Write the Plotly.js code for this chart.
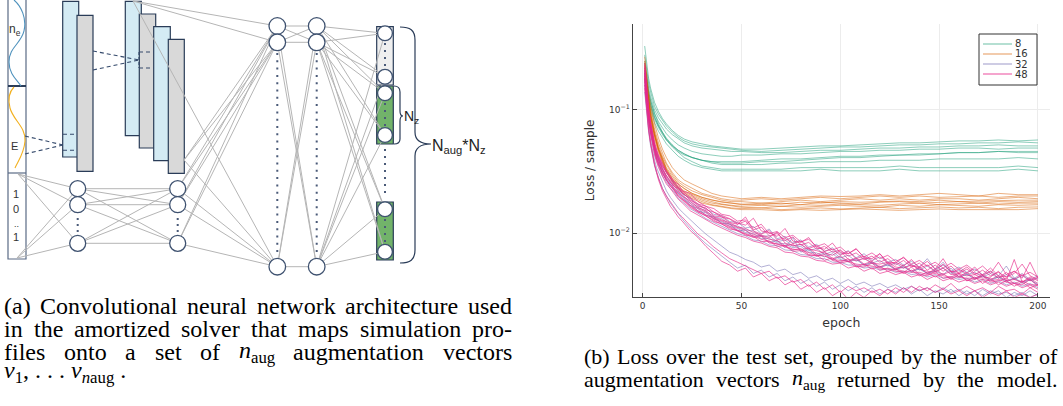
<!DOCTYPE html>
<html><head><meta charset="utf-8">
<script src="https://cdn.plot.ly/plotly-3.0.1.min.js"></script>
<style>html,body{margin:0;padding:0;background:#fff;} #chart{width:1063px;height:406px;}</style>
</head><body><div id="chart"></div>
<script>
// ---------------- DATA ----------------
const epochsSmooth = [1,2,3,4,5,6,8,10,12,15,18,21,25,30,35,40,45,50,60,70,80,90,100,110,120,130,140,150,160,170,180,190,200];
const epochsNoisy = [1,2,3,4,5,6,7,8,10,12,14,16,18,20,24,28,32,36,40,44,48,52,56,60,64,68,72,76,80,84,88,92,96,100,104,108,112,116,120,124,128,132,136,140,144,148,152,156,160,164,168,172,176,180,184,188,192,196,200];

const loss8 = [
 [0.33,0.24,0.18,0.15,0.13,0.115,0.097,0.085,0.077,0.068,0.062,0.058,0.055,0.053,0.051,0.050,0.049,0.048, 0.048,0.049,0.050,0.051,0.051,0.052,0.053,0.054,0.054,0.055,0.056,0.056,0.057,0.056,0.057],
 [0.28,0.21,0.165,0.14,0.12,0.107,0.092,0.082,0.074,0.066,0.06,0.056,0.053,0.051,0.050,0.049,0.048,0.047, 0.046,0.047,0.048,0.049,0.050,0.050,0.051,0.052,0.052,0.053,0.053,0.054,0.054,0.055,0.054],
 [0.25,0.19,0.15,0.128,0.112,0.1,0.086,0.077,0.07,0.063,0.058,0.054,0.051,0.049,0.048,0.047,0.046,0.046, 0.045,0.045,0.046,0.047,0.047,0.048,0.049,0.049,0.050,0.050,0.051,0.051,0.052,0.051,0.051],
 [0.22,0.17,0.138,0.118,0.104,0.094,0.08,0.071,0.064,0.057,0.052,0.049,0.046,0.044,0.043,0.042,0.042,0.043, 0.043,0.044,0.044,0.045,0.046,0.046,0.047,0.047,0.048,0.048,0.049,0.049,0.048,0.049,0.049],
 [0.2,0.155,0.127,0.11,0.097,0.087,0.074,0.065,0.058,0.051,0.046,0.043,0.041,0.039,0.038,0.037,0.037,0.037, 0.038,0.038,0.039,0.040,0.041,0.041,0.042,0.043,0.043,0.044,0.045,0.045,0.046,0.046,0.046],
 [0.24,0.18,0.14,0.12,0.105,0.093,0.077,0.066,0.059,0.052,0.047,0.044,0.041,0.039,0.038,0.038,0.038,0.038, 0.039,0.040,0.040,0.041,0.042,0.042,0.043,0.043,0.044,0.044,0.045,0.045,0.046,0.045,0.045],
 [0.19,0.15,0.122,0.105,0.093,0.084,0.072,0.063,0.057,0.051,0.047,0.044,0.041,0.039,0.037,0.036,0.036,0.036, 0.036,0.037,0.037,0.038,0.038,0.038,0.039,0.039,0.039,0.040,0.040,0.040,0.040,0.041,0.040],
 [0.21,0.16,0.13,0.112,0.098,0.088,0.074,0.064,0.057,0.05,0.045,0.041,0.038,0.035,0.034,0.033,0.033,0.033, 0.033,0.033,0.034,0.034,0.034,0.034,0.034,0.035,0.034,0.034,0.034,0.034,0.034,0.035,0.034],
 [0.18,0.14,0.115,0.1,0.088,0.079,0.067,0.059,0.053,0.047,0.042,0.039,0.036,0.034,0.033,0.032,0.032,0.032, 0.032,0.032,0.032,0.033,0.032,0.032,0.032,0.033,0.032,0.032,0.032,0.032,0.032,0.033,0.032]
];

const loss16 = [
 [0.27,0.19,0.14,0.11,0.09,0.077,0.059,0.048,0.041,0.034,0.03,0.027,0.025,0.023,0.021,0.020,0.0195,0.019, 0.0195,0.019,0.0195,0.020,0.0198,0.020,0.0205,0.020,0.0205,0.021,0.0205,0.020,0.021,0.0205,0.0205],
 [0.24,0.17,0.125,0.099,0.082,0.07,0.054,0.044,0.037,0.031,0.027,0.025,0.023,0.021,0.02,0.019,0.0185,0.0185, 0.019,0.0185,0.019,0.0195,0.019,0.0195,0.02,0.0195,0.02,0.0195,0.0198,0.02,0.0195,0.02,0.02],
 [0.22,0.16,0.118,0.094,0.078,0.066,0.051,0.042,0.036,0.03,0.026,0.024,0.022,0.0205,0.0195,0.0185,0.018,0.018, 0.0175,0.018,0.0185,0.018,0.0185,0.019,0.0185,0.019,0.0185,0.019,0.019,0.0185,0.019,0.0195,0.019],
 [0.2,0.15,0.11,0.088,0.073,0.062,0.048,0.039,0.033,0.028,0.025,0.023,0.021,0.0195,0.0185,0.018,0.0175,0.017, 0.0175,0.0172,0.0178,0.0175,0.018,0.0178,0.018,0.0182,0.018,0.0185,0.018,0.0182,0.0185,0.0185,0.0185],
 [0.25,0.17,0.12,0.094,0.077,0.065,0.049,0.04,0.034,0.029,0.025,0.023,0.021,0.0195,0.0185,0.0178,0.0175,0.0172, 0.017,0.0175,0.017,0.0178,0.0175,0.0172,0.0178,0.018,0.0175,0.0178,0.018,0.0175,0.018,0.0178,0.018],
 [0.21,0.15,0.112,0.089,0.074,0.063,0.048,0.039,0.033,0.0275,0.024,0.022,0.0205,0.019,0.018,0.0172,0.0168,0.0165, 0.0168,0.0165,0.017,0.0168,0.0172,0.017,0.0168,0.0172,0.0175,0.017,0.0172,0.0175,0.0172,0.0175,0.0175],
 [0.19,0.14,0.105,0.085,0.071,0.061,0.047,0.038,0.032,0.027,0.0235,0.0215,0.02,0.0185,0.0175,0.017,0.0165,0.0162, 0.016,0.0165,0.0162,0.0165,0.0168,0.0165,0.0162,0.0168,0.0165,0.017,0.0168,0.0165,0.017,0.0168,0.017],
 [0.23,0.16,0.115,0.09,0.074,0.062,0.047,0.038,0.032,0.0265,0.023,0.021,0.0195,0.018,0.017,0.0165,0.016,0.0158, 0.016,0.0155,0.0158,0.016,0.0157,0.016,0.0162,0.0158,0.016,0.0163,0.016,0.0162,0.0158,0.0162,0.0163],
 [0.18,0.135,0.102,0.082,0.068,0.058,0.045,0.037,0.031,0.026,0.0225,0.0205,0.019,0.0175,0.0168,0.0162,0.0158,0.0155, 0.0155,0.0152,0.0155,0.0153,0.0155,0.0157,0.0155,0.0153,0.0155,0.0157,0.0155,0.0155,0.0157,0.0155,0.0158]
];

const loss32 = [
 [0.2,0.13,0.094,0.073,0.059,0.05,0.044,0.04,0.033,0.029,
  0.026,0.024,0.022,0.0205,0.018,0.0162,0.015,0.0136,0.0131,0.0118,
  0.0114,0.0106,0.0104,0.0094,0.0095,0.0085,0.0088,0.0078,0.0081,0.0072,
  0.0075,0.0067,0.0071,0.0063,0.0066,0.0059,0.0063,0.0057,0.006,0.0054,
  0.0057,0.0052,0.0056,0.005,0.0054,0.0049,0.0052,0.0047,0.005,0.0046,
  0.0048,0.0044,0.0047,0.0043,0.0046,0.0042,0.0045,0.0041,0.0043],
 [0.21,0.135,0.098,0.076,0.062,0.052,0.046,0.042,0.035,0.031,
  0.028,0.025,0.0235,0.021,0.0192,0.0168,0.0158,0.0142,0.0138,0.0124,
  0.0122,0.011,0.0113,0.0099,0.0108,0.009,0.0094,0.0083,0.0088,0.0077,
  0.0081,0.0071,0.0076,0.0067,0.0072,0.0063,0.0068,0.006,0.0064,0.0058,
  0.0061,0.0055,0.0059,0.0053,0.0062,0.0051,0.0055,0.0049,0.0053,0.0048,
  0.0051,0.0046,0.0049,0.0045,0.0054,0.0043,0.0047,0.0042,0.0045],
 [0.14,0.09,0.066,0.051,0.042,0.035,0.031,0.028,0.023,0.02,
  0.0175,0.0158,0.0142,0.013,0.011,0.0094,0.0082,0.0073,0.0064,0.0058,
  0.0052,0.0055,0.0047,0.005,0.0044,0.0047,0.0041,0.0044,0.0039,0.0042,
  0.0037,0.004,0.0035,0.0038,0.0034,0.0037,0.0033,0.0036,0.0032,0.0035,
  0.0033,0.0036,0.0032,0.0035,0.0031,0.0034,0.0032,0.0035,0.0031,0.0034,
  0.0031,0.0035,0.0032,0.0034,0.003,0.0033,0.0031,0.0034,0.0031],
 [0.17,0.115,0.083,0.064,0.052,0.044,0.039,0.035,0.029,0.026,
  0.023,0.0215,0.0192,0.018,0.0158,0.0145,0.0131,0.0122,0.0113,0.0106,
  0.0099,0.0095,0.0088,0.0086,0.008,0.0079,0.0073,0.0072,0.0067,0.0066,
  0.0062,0.0062,0.0058,0.0058,0.0055,0.0055,0.0052,0.0053,0.005,0.0051,
  0.0048,0.0049,0.0046,0.0047,0.0044,0.0046,0.0043,0.0044,0.0042,0.0043,
  0.004,0.0042,0.0039,0.0041,0.0038,0.004,0.0037,0.0039,0.0036],
 [0.16,0.1,0.073,0.057,0.046,0.039,0.034,0.031,0.026,0.022,
  0.0195,0.0176,0.016,0.0148,0.0128,0.0112,0.0098,0.0088,0.0079,0.007,
  0.0066,0.0061,0.0058,0.0053,0.0055,0.0049,0.0051,0.0046,0.0048,0.0043,
  0.0045,0.0041,0.0043,0.0039,0.0042,0.0038,0.004,0.0037,0.0039,0.0036,
  0.0038,0.0035,0.0037,0.0034,0.0036,0.0033,0.0036,0.0033,0.0035,0.0032,
  0.0034,0.0031,0.0034,0.0032,0.0033,0.0031,0.0033,0.003,0.0032],
 [0.19,0.125,0.09,0.07,0.057,0.048,0.042,0.038,0.032,0.028,
  0.025,0.023,0.021,0.0198,0.0168,0.0158,0.0139,0.0135,0.012,0.0119,
  0.0104,0.0106,0.0093,0.0096,0.0084,0.0087,0.0076,0.0092,0.007,0.0074,
  0.0065,0.0069,0.0061,0.0064,0.0058,0.0061,0.0055,0.0058,0.0052,0.0056,
  0.005,0.0054,0.0048,0.0052,0.0047,0.005,0.0058,0.0048,0.0043,0.0047,
  0.0042,0.0045,0.0041,0.0044,0.004,0.0043,0.0039,0.0042,0.0038],
 [0.18,0.12,0.088,0.069,0.056,0.047,0.041,0.037,0.031,0.027,
  0.025,0.0225,0.021,0.0192,0.0174,0.0151,0.0146,0.013,0.0124,0.0114,
  0.0109,0.0101,0.0099,0.009,0.0091,0.0083,0.0082,0.0076,0.0078,0.007,
  0.0069,0.0064,0.0068,0.0061,0.0059,0.0062,0.0055,0.0057,0.0053,0.0055,
  0.0051,0.0053,0.0049,0.0051,0.0047,0.0049,0.0046,0.0052,0.0044,0.0046,
  0.0043,0.0045,0.0042,0.0044,0.0041,0.0043,0.004,0.0042,0.0038]
];

const loss48 = [
 [0.21,0.13,0.095,0.074,0.06,0.05,0.044,0.04,0.034,0.029,
  0.027,0.024,0.023,0.021,0.019,0.0165,0.016,0.0138,0.0135,0.0122,
  0.0118,0.0125,0.0104,0.0098,0.0105,0.0088,0.0091,0.0082,0.0086,0.0075,
  0.0079,0.0071,0.0074,0.0066,0.0071,0.0062,0.0065,0.0059,0.0068,0.0056,
  0.0058,0.0054,0.0061,0.0052,0.0055,0.0049,0.0056,0.0048,0.0051,0.0047,
  0.0053,0.0045,0.0049,0.0043,0.0048,0.0042,0.0046,0.0041,0.0044],
 [0.24,0.15,0.105,0.08,0.065,0.055,0.048,0.043,0.037,0.032,
  0.029,0.026,0.025,0.022,0.021,0.018,0.0165,0.0158,0.0142,0.0138,
  0.0125,0.0128,0.011,0.0118,0.0099,0.0103,0.0092,0.0096,0.0085,0.0089,
  0.0078,0.0082,0.0073,0.0077,0.0068,0.0074,0.0064,0.0069,0.0062,0.0066,
  0.0059,0.0063,0.0056,0.006,0.0054,0.0058,0.0052,0.0057,0.0051,0.0055,
  0.0049,0.0054,0.0047,0.0058,0.0046,0.0049,0.0045,0.0048,0.0044],
 [0.18,0.115,0.085,0.066,0.054,0.046,0.04,0.036,0.03,0.027,
  0.024,0.022,0.0198,0.0186,0.0162,0.0148,0.0138,0.0124,0.0119,0.0108,
  0.0105,0.0096,0.0094,0.0085,0.0086,0.0078,0.0079,0.0071,0.0072,0.0066,
  0.0066,0.006,0.0063,0.0057,0.0059,0.0053,0.0056,0.0051,0.0054,0.0049,
  0.0051,0.0047,0.005,0.0045,0.0048,0.0044,0.0047,0.0042,0.0046,0.0041,
  0.0044,0.0039,0.0043,0.0038,0.0041,0.0037,0.004,0.0036,0.0038],
 [0.2,0.128,0.092,0.071,0.058,0.049,0.043,0.039,0.033,0.028,
  0.026,0.023,0.0215,0.02,0.0175,0.0158,0.0148,0.0132,0.0126,0.0117,
  0.011,0.0105,0.0097,0.0095,0.0089,0.0087,0.0079,0.0081,0.0073,0.0076,
  0.0067,0.0071,0.0062,0.0065,0.0059,0.0063,0.0056,0.0059,0.0053,0.0057,
  0.0051,0.0055,0.0049,0.0053,0.0047,0.0051,0.0046,0.0049,0.0044,0.0048,
  0.0043,0.0046,0.0042,0.0045,0.0041,0.0061,0.004,0.0043,0.0039],
 [0.16,0.1,0.07,0.054,0.043,0.036,0.031,0.027,0.022,0.019,
  0.0165,0.015,0.0135,0.0125,0.0105,0.0092,0.0078,0.0068,0.0059,0.0055,
  0.0049,0.0052,0.0044,0.0047,0.0041,0.0044,0.0038,0.0041,0.0035,0.0038,
  0.0033,0.0036,0.0031,0.0034,0.0029,0.0033,0.003,0.0034,0.0031,0.0035,
  0.0032,0.0036,0.0033,0.0037,0.0034,0.0038,0.0035,0.0039,0.0034,0.0037,
  0.0034,0.0036,0.0033,0.0037,0.0034,0.0035,0.0032,0.0036,0.0033],
 [0.17,0.11,0.08,0.063,0.051,0.043,0.038,0.034,0.029,0.025,
  0.023,0.021,0.0188,0.0176,0.0152,0.014,0.0128,0.0118,0.011,0.0102,
  0.0096,0.0092,0.0086,0.0083,0.0078,0.0076,0.007,0.0069,0.0065,0.0064,
  0.006,0.0059,0.0056,0.0057,0.0052,0.0054,0.0049,0.0052,0.0047,0.0049,
  0.0046,0.0048,0.0044,0.0046,0.0042,0.0045,0.0041,0.0043,0.004,0.0042,
  0.0039,0.0041,0.0038,0.004,0.0037,0.0039,0.0036,0.0038,0.0035],
 [0.15,0.095,0.068,0.053,0.043,0.036,0.032,0.028,0.023,0.02,
  0.018,0.016,0.0145,0.0135,0.0115,0.0098,0.0088,0.0077,0.0069,0.0062,
  0.0058,0.0054,0.0051,0.0047,0.0049,0.0043,0.0045,0.004,0.0042,0.0037,
  0.004,0.0035,0.0038,0.0033,0.0037,0.0034,0.0036,0.0033,0.0035,0.0032,
  0.0036,0.0033,0.0037,0.0034,0.0036,0.0033,0.0035,0.0032,0.0034,0.0031,
  0.0034,0.003,0.0033,0.0031,0.0034,0.003,0.0032,0.003,0.0032],
 [0.22,0.14,0.1,0.077,0.062,0.052,0.046,0.041,0.035,0.031,
  0.028,0.025,0.023,0.0215,0.0185,0.0172,0.0155,0.0148,0.0135,0.013,
  0.0118,0.0135,0.0106,0.0112,0.0095,0.0099,0.0087,0.0093,0.008,0.0084,
  0.0074,0.0078,0.007,0.0073,0.0065,0.0069,0.0061,0.0065,0.0058,0.0062,
  0.0055,0.006,0.0053,0.0057,0.005,0.0055,0.0049,0.0054,0.0047,0.0051,
  0.0046,0.005,0.0045,0.0048,0.0044,0.0047,0.0056,0.0045,0.0042],
 [0.2,0.13,0.093,0.072,0.059,0.05,0.044,0.039,0.033,0.029,
  0.026,0.024,0.022,0.02,0.0182,0.0161,0.0152,0.0135,0.0128,0.0121,
  0.0112,0.0109,0.0101,0.0097,0.0092,0.0102,0.0083,0.0079,0.0081,0.0074,
  0.0072,0.0069,0.0066,0.0072,0.0061,0.006,0.0062,0.0057,0.0056,0.0058,
  0.0053,0.0052,0.0055,0.0051,0.0049,0.0048,0.0052,0.0046,0.0047,0.0045,
  0.0046,0.0043,0.0044,0.0049,0.0041,0.0042,0.004,0.0044,0.0041],
 [0.19,0.12,0.088,0.068,0.056,0.047,0.041,0.037,0.031,0.027,
  0.0245,0.0225,0.0205,0.019,0.0168,0.0152,0.0141,0.0129,0.0121,0.0113,
  0.0106,0.0099,0.0095,0.0089,0.0086,0.0081,0.0079,0.0074,0.0073,0.0069,
  0.0066,0.0065,0.0061,0.006,0.0059,0.0056,0.0055,0.0054,0.0052,0.0051,
  0.0051,0.0049,0.0048,0.0048,0.0046,0.0047,0.0045,0.0044,0.0044,0.0043,
  0.0043,0.0042,0.0041,0.0042,0.004,0.0039,0.0041,0.0038,0.0038],
 [0.23,0.14,0.1,0.078,0.063,0.053,0.047,0.042,0.036,0.031,
  0.028,0.026,0.0235,0.022,0.0195,0.0172,0.0165,0.0148,0.0139,0.0131,
  0.0121,0.0116,0.0132,0.0104,0.0101,0.0094,0.0109,0.0086,0.0084,0.0092,
  0.0076,0.0074,0.0083,0.0069,0.0068,0.0075,0.0063,0.0062,0.0068,0.0058,
  0.0057,0.0064,0.0054,0.0053,0.0059,0.0051,0.0062,0.0049,0.0048,0.0053,
  0.0047,0.0046,0.0052,0.0045,0.0044,0.0049,0.0043,0.0058,0.0043],
 [0.18,0.118,0.086,0.067,0.055,0.046,0.04,0.036,0.031,0.027,
  0.024,0.0222,0.02,0.0187,0.0166,0.0149,0.0137,0.0127,0.0118,0.011,
  0.0104,0.0098,0.0092,0.0094,0.0083,0.0082,0.0077,0.0073,0.0075,0.0067,
  0.0065,0.0067,0.006,0.0058,0.0062,0.0054,0.0053,0.0057,0.005,0.0052,
  0.0049,0.0048,0.0053,0.0046,0.0045,0.0049,0.0043,0.0044,0.0047,0.0041,
  0.0042,0.0045,0.004,0.0041,0.0043,0.0039,0.0038,0.0042,0.0037]
];

const groupNames = ['8','16','32','48'];
const groupColors = ['rgba(27,158,119,0.5)','rgba(217,95,2,0.5)','rgba(117,112,179,0.55)','rgba(231,41,138,0.65)'];
const xTickVals = [0,50,100,150,200];
const yTickVals = [0.01,0.1];
const yTickText = ['10<sup>\u22122</sup>','10<sup>\u22121</sup>'];

// ---------------- TRACES ----------------
const traces = [];
[[loss8, epochsSmooth],[loss16, epochsSmooth],[loss32, epochsNoisy],[loss48, epochsNoisy]].forEach(([runs, ep], gi) => {
  runs.forEach(run => traces.push({
    type:'scatter', mode:'lines', x: ep, y: run, name: groupNames[gi],
    line:{color: groupColors[gi], width:1}, hoverinfo:'skip', showlegend:false
  }));
});

// ---------------- DIAGRAM HELPERS (pixel -> paper) ----------------
const W = 1063, H = 406;
const X = v => v / W, Y = v => 1 - v / H;
const shapes = [], annotations = [];
function seg(x0,y0,x1,y1,color,width,dash){ shapes.push({type:'line',xref:'paper',yref:'paper',x0:X(x0),y0:Y(y0),x1:X(x1),y1:Y(y1),line:{color:color,width:width,dash:dash||'solid'}}); }
function box(x0,y0,x1,y1,fill,color,width){ shapes.push({type:'rect',xref:'paper',yref:'paper',x0:X(x0),y0:Y(y1),x1:X(x1),y1:Y(y0),fillcolor:fill,line:{color:color,width:width}}); }
function ring(cx,cy,r,fill,color,width){ shapes.push({type:'circle',xref:'paper',yref:'paper',x0:X(cx-r),x1:X(cx+r),y0:Y(cy+r),y1:Y(cy-r),fillcolor:fill,line:{color:color,width:width}}); }
function curve(d,color,width){
  const toks = d.trim().split(/[\s,]+/); const out=[]; let isX=true;
  for(const t of toks){ if(/^[A-Za-z]$/.test(t)){out.push(t); isX=true;} else { const v=parseFloat(t); out.push(isX? X(v).toFixed(5): Y(v).toFixed(5)); isX=!isX; } }
  shapes.push({type:'path',xref:'paper',yref:'paper',path:out.join(' '),line:{color:color,width:width},fillcolor:'rgba(0,0,0,0)'});
}
function txt(x,y,t,size,family,color,xanchor){ annotations.push({xref:'paper',yref:'paper',x:X(x),y:Y(y),text:t,showarrow:false,xanchor:xanchor||'center',yanchor:'middle',borderpad:0,borderwidth:0,font:{size:size,family:family,color:color||'#333'}}); }

const GREY = '#b5b5b5', NODE = '#3f5270', RECT = '#2a3c58', DASH = '#34496b', DOT = '#4a5a78';
const BLUE = '#d4ebf4', GRAY = '#d9d9d9', GREEN = '#72b36a';
const SANS = 'Liberation Sans';

// input column
box(8,-2,26,259,'rgba(0,0,0,0)','#5a6b85',1.2);
seg(8,86,26,86,RECT,2);
seg(8,173,26,173,'#5a6b85',1.2);
curve('M 14 0 C 21 6 27 18 24 31 C 21 44 9 47 9 62 C 9 74 17 80 21 86','#4f92bd',1.1);
curve('M 14 87 C 9 92 8 100 10 108 C 13 120 26 127 25 141 C 24 154 18 161 15 168','#f2b01e',1.1);
txt(15,30,'n<sub>e</sub>',12,SANS,'#333');
txt(14,146,'E',11,SANS,'#333');
txt(16,194,'1',11,SANS,'#333');
txt(16,209,'0',11,SANS,'#333');
txt(16,224,'..',9,SANS,'#333');
txt(16,237,'1',11,SANS,'#333');

// conv blocks
box(62.7,1.3,78.7,157,BLUE,RECT,1.2);
box(77,15.3,93,171.3,GRAY,RECT,1.2);
box(125.3,1.3,141.3,135.7,BLUE,RECT,1.2);
box(139.3,14,155.7,148,GRAY,RECT,1.2);
box(153.7,26.7,170.3,160.7,BLUE,RECT,1.2);
box(168.3,39.3,184.3,173.3,GRAY,RECT,1.2);

// output column
box(376.7,26.7,393.3,85,'#efefef',RECT,1.2);
box(376.7,86,393.3,144,GREEN,RECT,1.2);
box(376.7,202,393.3,260,GREEN,RECT,1.2);

// dashed receptive fields
seg(25,136,63,145,DASH,1.1,'4px,3px');
seg(25,154,63,145,DASH,1.1,'4px,3px');
seg(63,134.3,77,134.3,DASH,1.1,'4px,3px');
seg(63,150.3,77,150.3,DASH,1.1,'4px,3px');
seg(93,51,139,60,DASH,1.1,'4px,3px');
seg(93,70,139,60,DASH,1.1,'4px,3px');
seg(139,52,154,52,DASH,1.1,'4px,3px');
seg(139,68,154,68,DASH,1.1,'4px,3px');
seg(139,52,139,68,DASH,1.1,'3px,2px');

// node positions
const c1 = [[77.7,188.7],[77.7,204.7],[77.7,243.3]];
const c2 = [[177.7,188.7],[177.7,204.7],[177.7,243.3]];
const l3 = [[277.3,26],[277.3,42.3],[277.3,266.7]];
const l4 = [[316.7,26],[316.7,42.3],[316.7,266.7]];
const outY = [33.3,76.7,93.3,135,209.3,251.7];

// connections
[[18,174],[17,258]].forEach(s => c1.forEach(t => seg(s[0],s[1],t[0],t[1],GREY,1)));
c1.forEach(s => c2.forEach(t => seg(s[0],s[1],t[0],t[1],GREY,1)));
[[133,1],[184,160]].concat(c2).forEach(s => l3.forEach(t => seg(s[0],s[1],t[0],t[1],GREY,1)));
l3.forEach(s => l4.forEach(t => seg(s[0],s[1],t[0],t[1],GREY,1)));
l4.forEach(s => outY.forEach(y => seg(s[0],s[1],385,y,GREY,1)));

// nodes
c1.concat(c2).forEach(p => ring(p[0],p[1],8,'#fff',NODE,1.3));
l3.concat(l4).forEach(p => ring(p[0],p[1],8.3,'#fff',NODE,1.3));
outY.forEach(y => ring(385,y,7.4,'#fff',NODE,1.3));

// dotted continuations
seg(77.7,218,77.7,232,DOT,2,'2px,4px');
seg(177.7,218,177.7,232,DOT,2,'2px,4px');
seg(277.3,53,277.3,257,DOT,2,'2px,5.3px');
seg(316.7,53,316.7,257,DOT,2,'2px,5.3px');
seg(385,43,385,68,DOT,2,'2px,5px');
seg(385,103,385,127,DOT,2,'2px,5px');
seg(385,149,385,198,DOT,2,'2px,5px');
seg(385,219,385,244,DOT,2,'2px,5px');

// braces
curve('M 394 86 C 398 86 400 88 400 92 L 400 111 C 400 114 401 116 403 116 C 401 116 400 118 400 121 L 400 139 C 400 142 398 144 394 144',RECT,1.2);
txt(403.5,117,'N<sub>z</sub>',14,SANS,'#222','left');
curve('M 400 27 C 410 27 415 30 415 40 L 415 132 C 415 140 420 144 431 144 C 420 144 415 148 415 156 L 415 250 C 415 260 410 263 400 263',RECT,1.2);
txt(431.5,146,'N<sub>aug</sub>*N<sub>z</sub>',16,SANS,'#222','left');

// manual legend
box(979,34,1037,85,'#fff','#333',1);
groupNames.forEach((n,i) => {
  const y = 44 + i*10;
  seg(983,y,1012,y,groupColors[i],1.3);
  txt(1015,y,n,10,'DejaVu Sans','#333','left');
});

// ---------------- CAPTIONS (justified by measuring words) ----------------
const CAP_FONT = 'Liberation Serif';
const CAP_FAMILY = '"Liberation Serif", "Times New Roman", "DejaVu Serif", serif';
const capA = [
  ['(a)','Convolutional','neural','network','architecture','used'],
  ['in','the','amortized','solver','that','maps','simulation','pro-'],
  ['files','onto','a','set','of','<i>n</i><sub>aug</sub>','augmentation','vectors']
];
const capA4 = '<i>v</i><sub>1</sub>, . . . <i>v</i><sub><i>n</i>aug</sub> .';
const capB = [
  ['(b)','Loss','over','the','test','set,','grouped','by','the','number','of'],
  ['augmentation','vectors','<i>n</i><sub>aug</sub>','returned','by','the','model.']
];
const cv = document.createElement('canvas').getContext('2d');
function measure(html,size){
  const re = /<(\/?)(i|sub)>|([^<]+)/g; let m, it=false, sub=0, w=0;
  while((m = re.exec(html))){
    if(m[3]!==undefined){ const s = sub? size*0.7 : size; cv.font = (it?'italic ':'') + s + 'px "' + CAP_FONT + '"'; w += cv.measureText(m[3]).width; }
    else if(m[2]==='i') it = !m[1];
    else if(m[2]==='sub') sub += m[1]? -1 : 1;
  }
  return w;
}
function justify(words,x0,x1,y,size){
  const ws = words.map(w => measure(w,size));
  const tot = ws.reduce((a,b)=>a+b,0);
  const gap = (x1-x0-tot)/(words.length-1);
  let x = x0;
  words.forEach((w,i) => { txt(x,y,w,size,CAP_FAMILY,'#000','left'); x += ws[i] + gap; });
}
const capAY = [306,329,352], capBY = [356,379];
capA.forEach((l,i) => justify(l,4,512,capAY[i],24));
txt(4,372,capA4,24,CAP_FAMILY,'#000','left');
capB.forEach((l,i) => justify(l,584,1057,capBY[i],22));

// ---------------- LAYOUT ----------------
const layout = {
  width:W, height:H, margin:{l:0,r:0,t:0,b:0},
  paper_bgcolor:'#fff', plot_bgcolor:'rgba(0,0,0,0)', showlegend:false,
  font:{family:'DejaVu Sans', color:'#333'},
  xaxis:{domain:[632.7/W,1050/W], range:[-5.06,206.1], tickvals:xTickVals, ticks:'inside', ticklen:4, tickcolor:'#444',
    showline:true, linecolor:'#444', linewidth:1.2, showgrid:true, gridcolor:'#ececec', gridwidth:1, zeroline:false,
    tickfont:{size:9, color:'#333'}, title:{text:'epoch', font:{size:12.5, color:'#333'}, standoff:8}, automargin:false, fixedrange:true},
  yaxis:{domain:[1-296.7/H,1-24/H], type:'log', range:[-2.5166,-0.3025], tickvals:yTickVals, ticktext:yTickText, ticks:'inside', ticklen:4, tickcolor:'#444',
    showline:true, linecolor:'#444', linewidth:1.2, showgrid:true, gridcolor:'#ececec', gridwidth:1, zeroline:false,
    tickfont:{size:9, color:'#333'}, title:{text:'Loss / sample', font:{size:12, color:'#333'}, standoff:11}, automargin:false, fixedrange:true},
  shapes: shapes, annotations: annotations
};
Plotly.newPlot('chart', traces, layout, {displayModeBar:false, staticPlot:true});
</script></body></html>
